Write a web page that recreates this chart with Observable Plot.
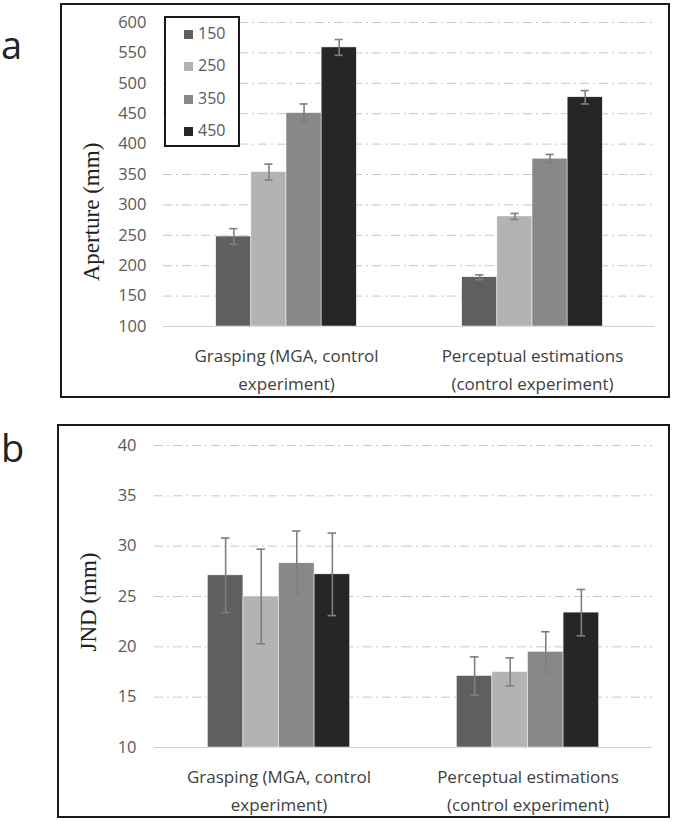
<!DOCTYPE html>
<html><head><meta charset="utf-8">
<script src="https://cdn.jsdelivr.net/npm/d3@7"></script>
<script src="https://cdn.jsdelivr.net/npm/@observablehq/plot@0.6"></script>
<style>
body{margin:0;background:#fff;}
#wrap{position:relative;width:675px;height:822px;font-family:"Open Sans",sans-serif;overflow:hidden;}
.frame{position:absolute;border:2px solid #1a1a1a;box-sizing:border-box;}
.letter{position:absolute;font-size:38px;line-height:38px;color:#222;left:1px;}
.ytitle{position:absolute;font-family:"Liberation Serif",serif;font-size:23px;line-height:23px;color:#222;white-space:nowrap;transform:translate(-50%,-50%) rotate(-90deg);}
.legend{position:absolute;left:164px;top:16px;width:76px;height:131px;border:2px solid #1a1a1a;box-sizing:border-box;background:#fff;}
.li{position:absolute;left:18px;font-size:16px;line-height:16px;color:#595959;height:16px;}
.li span.sw{display:inline-block;width:9px;height:9px;margin-right:5px;vertical-align:0px;}
.plot{position:absolute;left:0;}
</style>
</head><body>
<div id="wrap"></div>
<script>
// ---- data ----
const categories = ["Grasping (MGA, control\nexperiment)", "Perceptual estimations\n(control experiment)"];
const sizes = ["150", "250", "350", "450"];
const sizeColors = ["#5f5f5f", "#b3b3b3", "#888888", "#262626"];
const apertureMeans = [[248, 354, 451, 559], [181, 281, 376, 477]];
const apertureErrors = [[13, 13, 15, 13], [4, 5, 7, 11]];
const jndMeans = [[27.1, 25.0, 28.3, 27.2], [17.1, 17.5, 19.5, 23.4]];
const jndErrors = [[3.7, 4.7, 3.2, 4.1], [1.9, 1.4, 2.0, 2.3]];
const apertureTicks = [100, 150, 200, 250, 300, 350, 400, 450, 500, 550, 600];
const jndTicks = [10, 15, 20, 25, 30, 35, 40];
const apertureTitle = "Aperture (mm)";
const jndTitle = "JND (mm)";

function rows(means, errs) {
  const out = [];
  categories.forEach((c, i) => sizes.forEach((s, j) => out.push({cat: c, size: s, mean: means[i][j], err: errs[i][j]})));
  return out;
}

function panel(data, ticks, opts) {
  const base = ticks[0];
  const errStyle = {stroke: "#7f7f7f", strokeWidth: 1.6};
  return Plot.plot({
    width: 675, height: 400,
    marginLeft: opts.ml, marginRight: opts.mr, marginTop: opts.mt, marginBottom: opts.mb,
    fx: {domain: categories, paddingInner: 0, paddingOuter: 0, label: null},
    x: {domain: sizes, paddingInner: 0, paddingOuter: 1.5, axis: null, round: false},
    y: {domain: [ticks[0], ticks[ticks.length - 1]], axis: null},
    color: {domain: sizes, range: sizeColors},
    style: {fontFamily: "Open Sans", background: "transparent", overflow: "visible"},
    marks: [
      Plot.gridY(ticks.slice(1), {stroke: "#c8c8c8", strokeOpacity: 1, strokeWidth: 1, strokeDasharray: "9,4,2,4"}),
      Plot.ruleY([base], {stroke: "#d0d0d0", strokeWidth: 1.2}),
      Plot.barY(data, {fx: "cat", x: "size", y1: () => base, y2: "mean", fill: "size", stroke: "#ffffff", strokeWidth: 0.5}),
      Plot.ruleX(data, {fx: "cat", x: "size", y1: d => d.mean - d.err, y2: d => d.mean + d.err, ...errStyle}),
      Plot.tickY(data, {fx: "cat", x: "size", y: d => d.mean - d.err, insetLeft: 13.5, insetRight: 13.5, ...errStyle}),
      Plot.tickY(data, {fx: "cat", x: "size", y: d => d.mean + d.err, insetLeft: 13.5, insetRight: 13.5, ...errStyle}),
      Plot.axisY({ticks, tickSize: 0, tickPadding: opts.tp, fontSize: 16.5, fill: "#595959", label: null}),
      Plot.axisFx({anchor: "bottom", tickSize: 0, tickPadding: 16, fontSize: 17, fill: "#404040", label: null, lineHeight: 1.65})
    ]
  });
}

const wrap = document.getElementById("wrap");
function add(html) { const d = document.createElement("div"); d.innerHTML = html; const el = d.firstElementChild; wrap.appendChild(el); return el; }

// frames
add('<div class="frame" style="left:60px;top:3px;width:610px;height:395px"></div>');
add('<div class="frame" style="left:57px;top:424px;width:613px;height:394px"></div>');

// panel a
const pa = panel(rows(apertureMeans, apertureErrors), apertureTicks, {ml: 163, mr: 20, mt: 22, mb: 74, tp: 17});
pa.classList.add("plot"); pa.style.top = "0px"; wrap.appendChild(pa);
// panel b
const pb = panel(rows(jndMeans, jndErrors), jndTicks, {ml: 153, mr: 23, mt: 25, mb: 73, tp: 18});
pb.classList.add("plot"); pb.style.top = "420px"; wrap.appendChild(pb);

// letters and y titles
const la = add('<div class="letter" style="top:25px">a</div>');
const lb = add('<div class="letter" style="top:428px">b</div>');
const ta = add('<div class="ytitle" style="left:91px;top:212px"></div>'); ta.textContent = apertureTitle;
const tb = add('<div class="ytitle" style="left:88px;top:602px"></div>'); tb.textContent = jndTitle;

// legend
const lg = add('<div class="legend"></div>');
const legendTops = [7, 39, 72, 104];
sizes.forEach((s, i) => {
  const it = document.createElement("div");
  it.className = "li"; it.style.top = legendTops[i] + "px";
  const sw = document.createElement("span"); sw.className = "sw"; sw.style.background = sizeColors[i];
  it.appendChild(sw); it.appendChild(document.createTextNode(s));
  lg.appendChild(it);
});
</script>
</body></html>
